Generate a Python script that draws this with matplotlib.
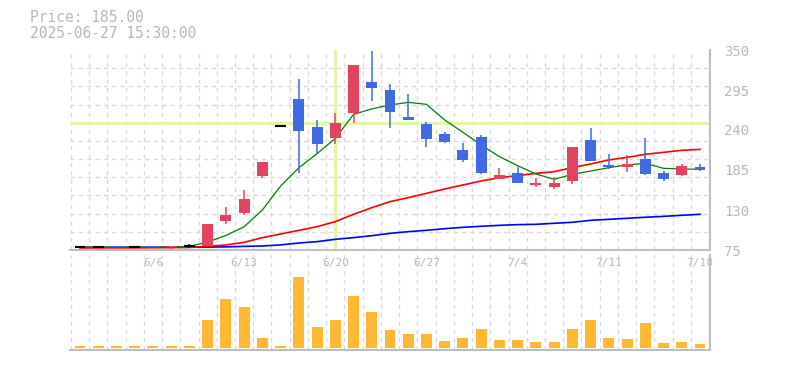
import numpy as np
import matplotlib
matplotlib.use("Agg")
import matplotlib.pyplot as plt

plt.rcParams['font.family'] = ['DejaVu Sans Mono', 'DejaVu Sans']

# daily candles, 2025-06-02 .. 2025-07-18 (trading days)
opens = [79, 79, 80.5, 79, 80, 78.5, 80, 80, 115, 126, 177, 245,
         283, 244, 229.5, 264, 306, 295, 258, 248, 234.5, 212.5, 230, 172,
         181, 165, 162, 170, 226, 192, 189.5, 200, 181, 178.5, 188.5]
highs = [80, 80, 80.5, 80, 81, 80.5, 83, 111, 134, 157, 196, 245,
         310, 254, 264, 329, 349, 303, 289, 250.5, 237, 222, 233, 188,
         189.5, 174, 176, 216.5, 243, 207.5, 205.5, 229, 183.5, 193, 193]
lows = [79, 79, 78.5, 79, 78.5, 77, 78, 80, 111, 123, 174.5, 245,
        181, 209, 221, 250, 280, 243, 254, 217, 222.5, 196.5, 179, 172,
        167.5, 162, 159, 166, 198, 187, 182.5, 178, 170, 177, 184]
closes = [79, 79, 78.5, 79, 78.5, 80.5, 80, 111, 123, 145, 196, 245,
          239, 221, 249.5, 329, 298, 265, 254, 228, 224, 199, 181, 178,
          167.5, 167, 167, 216.5, 198, 188.5, 193, 180, 173, 190.5, 185]

# moving averages
ma_short = [79, 79, 79, 79, 79, 79.3, 80, 86, 95, 107, 130, 163,
            188, 207.5, 228.5, 261.5, 269, 274.4, 278, 275.3, 253.8, 236.8, 219.4, 203.3,
            191, 179.5, 172.2, 179, 183.6, 188.2, 191.9, 194.2, 187.3, 186.4, 185.9]
ma_mid = [77.8, 77.9, 78, 78, 78.2, 78.3, 78.7, 80.1, 81.9, 85.6, 92, 97,
          102, 107.1, 114, 124.1, 133.2, 141.5, 147, 152.9, 158.9, 164.4, 169.9, 174.5,
          177.2, 180.4, 182.7, 188.2, 193.3, 198.8, 202.4, 206.6, 209.3, 212.1, 213.4]
ma_long = [78.7, 78.7, 78.7, 78.7, 78.7, 78.7, 78.7, 79, 79.3, 80, 80.5, 82,
           84.6, 86.5, 89.7, 92, 94.7, 97.9, 100.2, 102.1, 104.3, 106.2, 107.6, 108.9,
           109.9, 110.3, 111.7, 113.1, 115.8, 117.2, 118.6, 120, 121.3, 122.7, 124.1]

# volume (relative units)
volumes = [2, 2, 2, 2, 2, 2, 2, 28, 49, 41, 10, 2,
           71, 21, 28, 52, 36, 18, 14, 14, 7, 10, 19, 8,
           8, 6, 6, 19, 28, 10, 9, 25, 5, 6, 4]

date_idx = [4, 9, 14, 19, 24, 29, 34]
date_labels = ['6/6', '6/13', '6/20', '6/27', '7/4', '7/11', '7/18']
price_ticks = [75, 130, 185, 240, 295, 350]

cross_idx = 14
cross_price = 249.3

UP = '#e2445f'
DOWN = '#4169e1'
GRID = '#d9d9d9'
AXIS = '#bdbdbd'
TXT = '#b8b8b8'

W, H = 785, 370
fig = plt.figure(figsize=(W / 100, H / 100), dpi=100)
vax = fig.add_axes([70 / W, 1 - 350 / H, 640 / W, 95 / H])
ax = fig.add_axes([70 / W, 1 - 250 / H, 640 / W, 200 / H])
ax.patch.set_visible(False)
vax.patch.set_visible(False)

x = np.arange(len(closes))
xlim = (-0.55, len(closes) - 0.45)
minor_x = np.arange(-0.5, len(closes), 1.0)

# ---- price panel
ax.set_xlim(*xlim)
ax.set_ylim(75, 350)
ax.set_axisbelow(True)
ax.set_yticks(np.arange(75, 351, 25), minor=True)
ax.set_xticks(minor_x, minor=True)
ax.grid(which='minor', color=GRID, linestyle=(0, (3, 3)), linewidth=1)
ax.grid(which='major', visible=False)

ax.axhline(cross_price, color='#e4f4a8', lw=2.3, zorder=1)
ax.axvline(cross_idx, ymin=0.01, color='#e4f4a8', lw=2.3, zorder=1)

ax.plot(x, ma_long, color='#0000ff', lw=1.2, zorder=2)
ax.plot(x, ma_mid, color='#ff0000', lw=1.2, zorder=2)
ax.plot(x, ma_short, color='#008000', lw=0.9, zorder=2)

for i in x:
    o, h, l, c = opens[i], highs[i], lows[i], closes[i]
    if c == o:
        col = 'black'
        ax.vlines(i, l, h, color=col, lw=1.1, zorder=3)
        ax.hlines(c, i - 0.3, i + 0.3, color=col, lw=1.5, zorder=3)
        continue
    col = UP if c > o else DOWN
    ax.vlines(i, l, h, color=col, lw=1.1, zorder=3)
    ax.bar(i, abs(c - o), bottom=min(o, c), width=0.6, color=col,
           linewidth=0, zorder=4)

ax.yaxis.tick_right()
ax.set_yticks(price_ticks)
ax.tick_params(axis='y', which='major', length=0, pad=10, labelsize=10,
               labelcolor=TXT)
ax.set_xticks(date_idx, date_labels)
ax.tick_params(axis='x', which='major', length=0, pad=5.5, labelsize=8,
               labelcolor=TXT)
ax.tick_params(which='minor', length=0)
for s in ('left', 'top'):
    ax.spines[s].set_visible(False)
for s in ('right', 'bottom'):
    ax.spines[s].set_color(AXIS)
    ax.spines[s].set_linewidth(1.5)

# ---- volume panel
vax.set_xlim(*xlim)
vax.set_ylim(-2, 93)
vax.set_axisbelow(True)
vax.set_xticks(minor_x, minor=True)
vax.grid(which='minor', axis='x', color=GRID, linestyle=(0, (3, 3)), linewidth=1)
vax.bar(x, volumes, width=0.6, color='#ffb833', linewidth=0)
vax.set_xticks([])
vax.set_yticks([])
vax.tick_params(which='minor', length=0)
for s in ('left', 'top'):
    vax.spines[s].set_visible(False)
for s in ('right', 'bottom'):
    vax.spines[s].set_color(AXIS)
    vax.spines[s].set_linewidth(1.5)

fig.text(30 / W, 1 - 18 / H, 'Price: 185.00', color=TXT, fontsize=10.5, va='center')
fig.text(30 / W, 1 - 33 / H, '2025-06-27 15:30:00', color=TXT, fontsize=10.5, va='center')

fig.savefig('out.png', dpi=100, facecolor='white')
